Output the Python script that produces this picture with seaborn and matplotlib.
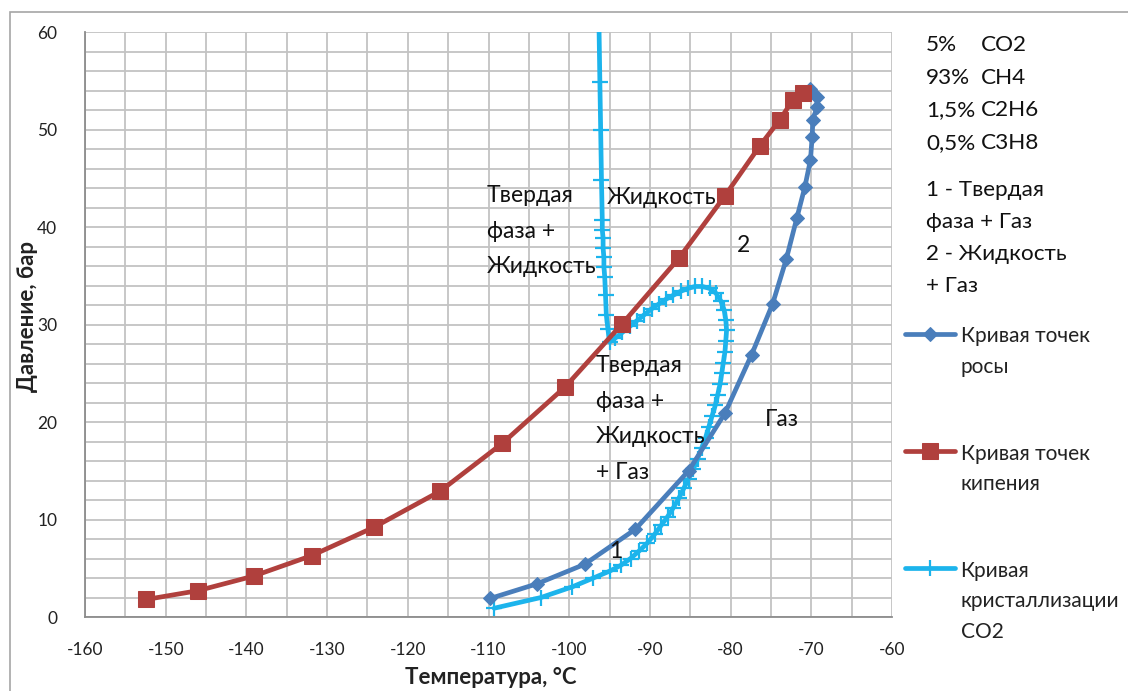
import numpy as np
import pandas as pd
import matplotlib
matplotlib.use("Agg")
import matplotlib.pyplot as plt
import seaborn as sns
from matplotlib.patches import Rectangle

# ---------------- data ----------------
dew_T = [-109.8, -104.0, -98.1, -91.8, -85.2, -80.7, -77.4, -74.8, -73.1, -71.8,
         -70.8, -70.1, -69.9, -69.8, -69.3, -69.3, -70.2]
dew_P = [1.9, 3.4, 5.4, 9.0, 15.0, 20.9, 26.9, 32.1, 36.7, 40.9,
         44.1, 46.9, 49.2, 51.0, 52.3, 53.3, 54.2]

boil_T = [-152.4, -146.0, -139.1, -131.9, -124.2, -116.0, -108.3, -100.5, -93.4,
          -86.4, -80.7, -76.4, -73.9, -72.3, -71.0]
boil_P = [1.8, 2.7, 4.2, 6.3, 9.2, 12.9, 17.8, 23.6, 30.1,
          36.8, 43.2, 48.3, 51.0, 53.0, 53.7]

co2_T = [-109.3, -103.5, -99.6, -97.0, -95.0, -93.6, -92.4, -91.3, -90.3, -89.4,
         -88.6, -87.8, -87.1, -86.4, -85.8, -85.2, -84.6, -84.1, -83.6, -83.1,
         -82.7, -82.3, -81.9, -81.6, -81.3, -81.1, -80.9, -80.7, -80.6, -80.5,
         -80.6, -80.8, -81.2, -81.8, -82.6, -83.5, -84.4, -85.3, -86.2, -87.1,
         -88.0, -88.9, -89.8, -90.7, -91.6, -92.5, -93.4, -94.3, -95.0,
         -95.2, -95.4, -95.5, -95.6, -95.7, -95.7, -95.8, -95.8, -95.9, -95.9,
         -96.0, -96.1, -96.2, -96.3]
co2_P = [0.9, 2.0, 3.1, 4.0, 4.7, 5.3, 6.0, 6.8, 7.6, 8.5,
         9.4, 10.3, 11.2, 12.2, 13.2, 14.2, 15.2, 16.2, 17.3, 18.4,
         19.5, 20.6, 21.7, 22.8, 23.9, 25.0, 26.1, 27.2, 28.3, 29.4,
         30.5, 31.5, 32.4, 33.2, 33.7, 33.9, 33.9, 33.7, 33.4, 33.0,
         32.6, 32.1, 31.6, 31.0, 30.4, 29.8, 29.2, 28.6, 28.2,
         29.5, 31.0, 33.0, 34.9, 35.9, 36.9, 37.8, 38.9, 39.7, 40.7,
         44.8, 49.9, 54.9, 60.2]

series_labels = ["Кривая точек\nросы", "Кривая точек\nкипения", "Кривая\nкристаллизации\nCO2"]
x_ticks = list(range(-160, -59, 10))
y_ticks = list(range(0, 61, 10))

# ---------------- style ----------------
sns.set_style("white")
plt.rcParams['font.family'] = ['Lato', 'DejaVu Sans']
plt.rcParams['axes.unicode_minus'] = False

W, H = 1128, 691
fig = plt.figure(figsize=(W / 100, H / 100), dpi=100)

def fx(px):
    return px / W

def fy(py):
    return 1 - py / H

# outer chart border
fig.patches.append(Rectangle((fx(10), -0.05), 1.1, fy(12) + 0.05, transform=fig.transFigure,
                             fill=False, edgecolor="#A6A6A6", lw=1.2))

ax = fig.add_axes([fx(85), fy(617), (892 - 85) / W, (617 - 32) / H])

c_dew = "#4A7EBB"
c_boil = "#B0403D"
c_co2 = "#1CB4EC"

dew_df = pd.DataFrame({"T": dew_T, "P": dew_P})
boil_df = pd.DataFrame({"T": boil_T, "P": boil_P})
co2_df = pd.DataFrame({"T": co2_T, "P": co2_P})

sns.lineplot(data=co2_df, x="T", y="P", sort=False, estimator=None, ax=ax, color=c_co2,
             lw=3.4, marker="+", ms=12, mew=1.6, mec=c_co2, label=series_labels[2], zorder=3)
sns.lineplot(data=dew_df, x="T", y="P", sort=False, estimator=None, ax=ax, color=c_dew,
             lw=3.4, marker="D", ms=7.5, mec=c_dew, label=series_labels[0], zorder=4)
sns.lineplot(data=boil_df, x="T", y="P", sort=False, estimator=None, ax=ax, color=c_boil,
             lw=3.4, marker="s", ms=12, mec=c_boil, label=series_labels[1], zorder=5)

ax.set_xlim(-160, -60)
ax.set_ylim(0, 60)
ax.set_xticks(x_ticks)
ax.set_yticks(y_ticks)
ax.set_xticks(np.arange(-160, -59, 5), minor=True)
ax.set_yticks(np.arange(0, 61, 2), minor=True)
ax.grid(True, which="both", color="#C3C3C3", lw=1.3)
ax.set_axisbelow(True)
for s in ["top", "right"]:
    ax.spines[s].set_visible(False)
for s in ["left", "bottom"]:
    ax.spines[s].set_color("#8C8C8C")
    ax.spines[s].set_linewidth(1.3)
ax.tick_params(which="major", direction="out", length=6, color="#8C8C8C", width=1.2,
               labelsize=12.5, labelcolor="#222222")
ax.tick_params(which="minor", length=0)
ax.tick_params(axis="x", pad=12)
ax.tick_params(axis="y", pad=14)
ax.set_xlabel("")
ax.set_ylabel("")

fig.text(fx(491), fy(677), "Температура, °С", ha="center", va="center",
         fontsize=16, fontweight="bold", color="#222222")
fig.text(fx(28), fy(316), "Давление, бар", ha="center", va="center", rotation=90,
         fontsize=16, fontweight="bold", color="#222222")

# legend
handles, labels = ax.get_legend_handles_labels()
order = [labels.index(l) for l in series_labels]
leg = ax.legend([handles[i] for i in order], [labels[i] for i in order],
                loc="upper left", bbox_to_anchor=(fx(897), fy(318)), bbox_transform=fig.transFigure,
                frameon=False, fontsize=15, handlelength=2.4, handletextpad=0.25,
                labelspacing=3.2, borderaxespad=0, labelcolor="#222222")
for t in leg.get_texts():
    t.set_linespacing(1.66)
for col in leg._legend_handle_box.get_children():
    for hp in col.get_children():
        hp.align = "top"

# annotations
tk = dict(fontsize=16.5, color="#111111", va="center", ha="left", linespacing=1.88)
fig.text(fx(487), fy(231), "Твердая\nфаза +\nЖидкость", **tk)
fig.text(fx(607), fy(197), "Жидкость", **tk)
fig.text(fx(737), fy(245), "2", **tk)
fig.text(fx(596), fy(419), "Твердая\nфаза +\nЖидкость\n+ Газ", **tk)
fig.text(fx(765), fy(420), "Газ", **tk)
fig.text(fx(609), fy(551), "1", **tk)

rk = dict(fontsize=16.2, color="#111111", va="center", ha="left")
pcts = ["5%", "93%", "1,5%", "0,5%"]
comps = ["CO2", "CH4", "C2H6", "C3H8"]
ys = [45, 78, 110, 143]
for p, c, y in zip(pcts, comps, ys):
    fig.text(fx(926), fy(y), p, **rk)
    fig.text(fx(981), fy(y), c, **rk)
for t, y in zip(["1 - Твердая", "фаза + Газ", "2 - Жидкость", "+ Газ"], [190, 222, 254, 286]):
    fig.text(fx(926), fy(y), t, **rk)

fig.savefig("out.png", dpi=100)
